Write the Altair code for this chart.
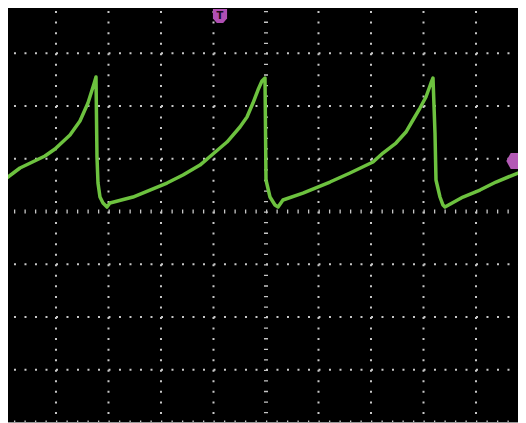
import altair as alt
import pandas as pd

# Trace, time in divisions (0 = centre), voltage in divisions (0 = centre)
trace_t = [-4.99, -4.686, -4.21, -4.019, -3.733, -3.543, -3.391, -3.277, -3.238,
           -3.219, -3.200, -3.162, -3.105, -3.029,
           -2.972, -2.534, -2.21, -1.886, -1.581, -1.257, -1.010, -0.743, -0.496,
           -0.362, -0.248, -0.153, -0.077, -0.019,
           0.000, 0.076, 0.171, 0.23,
           0.323, 0.704, 1.219, 1.600, 2.038, 2.228, 2.476, 2.666, 2.800, 2.933,
           3.047, 3.143, 3.181,
           3.219, 3.238, 3.314, 3.371, 3.409,
           3.752, 4.076, 4.381, 4.704, 4.952]
trace_v = [0.597, 0.825, 1.052, 1.185, 1.450, 1.716, 2.057, 2.417, 2.550,
           1.033, 0.540, 0.275, 0.161, 0.085,
           0.161, 0.275, 0.407, 0.540, 0.692, 0.881, 1.090, 1.317, 1.602,
           1.792, 2.057, 2.303, 2.474, 2.531,
           0.597, 0.275, 0.123, 0.085,
           0.218, 0.350, 0.559, 0.730, 0.938, 1.109, 1.298, 1.507, 1.735, 1.962,
           2.171, 2.436, 2.531,
           1.488, 0.597, 0.275, 0.123, 0.085,
           0.275, 0.407, 0.559, 0.692, 0.787]

grid_t = [-4, -3, -2, -1, 1, 2, 3, 4]
grid_v = [-3, -2, -1, 1, 2, 3]
centre_t = [0]
centre_v = [0]
edge_v = [-4]

trig_pos_t = [-0.876]
trig_pos_v = [3.706]
trig_level_t = [4.73]
trig_level_v = [0.957]

T_DOM = [-4.914, 4.8]
V_DOM = [-4.009, 3.858]
xs = alt.Scale(domain=T_DOM, nice=False, zero=False)
ys = alt.Scale(domain=V_DOM, nice=False, zero=False)

vgrid = pd.DataFrame({"t": grid_t, "y0": [4] * len(grid_t), "y1": [-4] * len(grid_t)})
hgrid = pd.DataFrame({"v": grid_v, "x0": [-5] * len(grid_v), "x1": [5] * len(grid_v)})
vcen = pd.DataFrame({"t": centre_t, "y0": [4], "y1": [-4]})
hcen = pd.DataFrame({"v": centre_v + edge_v, "x0": [-5, -5], "x1": [5, 5]})
edge = pd.DataFrame({"v": edge_v, "x0": [-5], "x1": [5]})
trace = pd.DataFrame({"t": trace_t, "v": trace_v, "i": list(range(len(trace_t)))})
tmark = pd.DataFrame({"t": trig_pos_t, "v": trig_pos_v, "lab": ["T"]})
lmark = pd.DataFrame({"t": trig_level_t, "v": trig_level_v})

X = lambda f: alt.X(f, scale=xs, axis=None)
Y = lambda f: alt.Y(f, scale=ys, axis=None)

dot = "#c8c8c8"

vg = alt.Chart(vgrid).mark_rule(clip=True, strokeWidth=2, strokeDash=[2, 8.55], color=dot).encode(
    x=X("t:Q"), y=Y("y0:Q"), y2="y1:Q")
hg = alt.Chart(hgrid).mark_rule(clip=True, strokeWidth=2, strokeDash=[2, 8.5], color=dot).encode(
    y=Y("v:Q"), x=X("x0:Q"), x2="x1:Q")
vc = alt.Chart(vcen).mark_rule(clip=True, strokeWidth=4, strokeDash=[1.3, 9.25], color=dot).encode(
    x=X("t:Q"), y=Y("y0:Q"), y2="y1:Q")
hc = alt.Chart(hcen).mark_rule(clip=True, strokeWidth=4, strokeDash=[1.3, 9.2], color=dot).encode(
    y=Y("v:Q"), x=X("x0:Q"), x2="x1:Q")
eg = alt.Chart(edge).mark_rule(clip=True, strokeWidth=1, color="#9a9a9a").encode(
    y=Y("v:Q"), x=X("x0:Q"), x2="x1:Q")

line = alt.Chart(trace).mark_line(clip=True, color="#6dc23f", strokeWidth=3.5,
                                  strokeJoin="round").encode(
    x=X("t:Q"), y=Y("v:Q"), order="i:Q")

tm = alt.Chart(tmark).mark_point(
    shape="M-1,-1L1,-1L1,0.35L0.45,1L-0.45,1L-1,0.35Z", filled=True, size=200,
    color="#b04fb3", opacity=1).encode(x=X("t:Q"), y=Y("v:Q"))
tt = alt.Chart(tmark).mark_text(font="DejaVu Sans", fontSize=10, fontWeight="bold",
                                color="#1a0a1a", baseline="middle", align="center").encode(
    x=X("t:Q"), y=Y("v:Q"), text="lab:N")
lm = alt.Chart(lmark).mark_point(
    shape="M-1,0L-0.45,-1L1,-1L1,1L-0.45,1Z", filled=True, size=256,
    color="#b35ab5", opacity=1).encode(x=X("t:Q"), y=Y("v:Q"))

chart = alt.layer(vg, hg, vc, hc, eg, line, tm, tt, lm).properties(
    width=510, height=415, padding=0, background="black",
    autosize=alt.AutoSizeParams(type="none")
).configure_view(stroke=None)

chart.save("out.html", embed_options={"renderer": "svg", "actions": False})
